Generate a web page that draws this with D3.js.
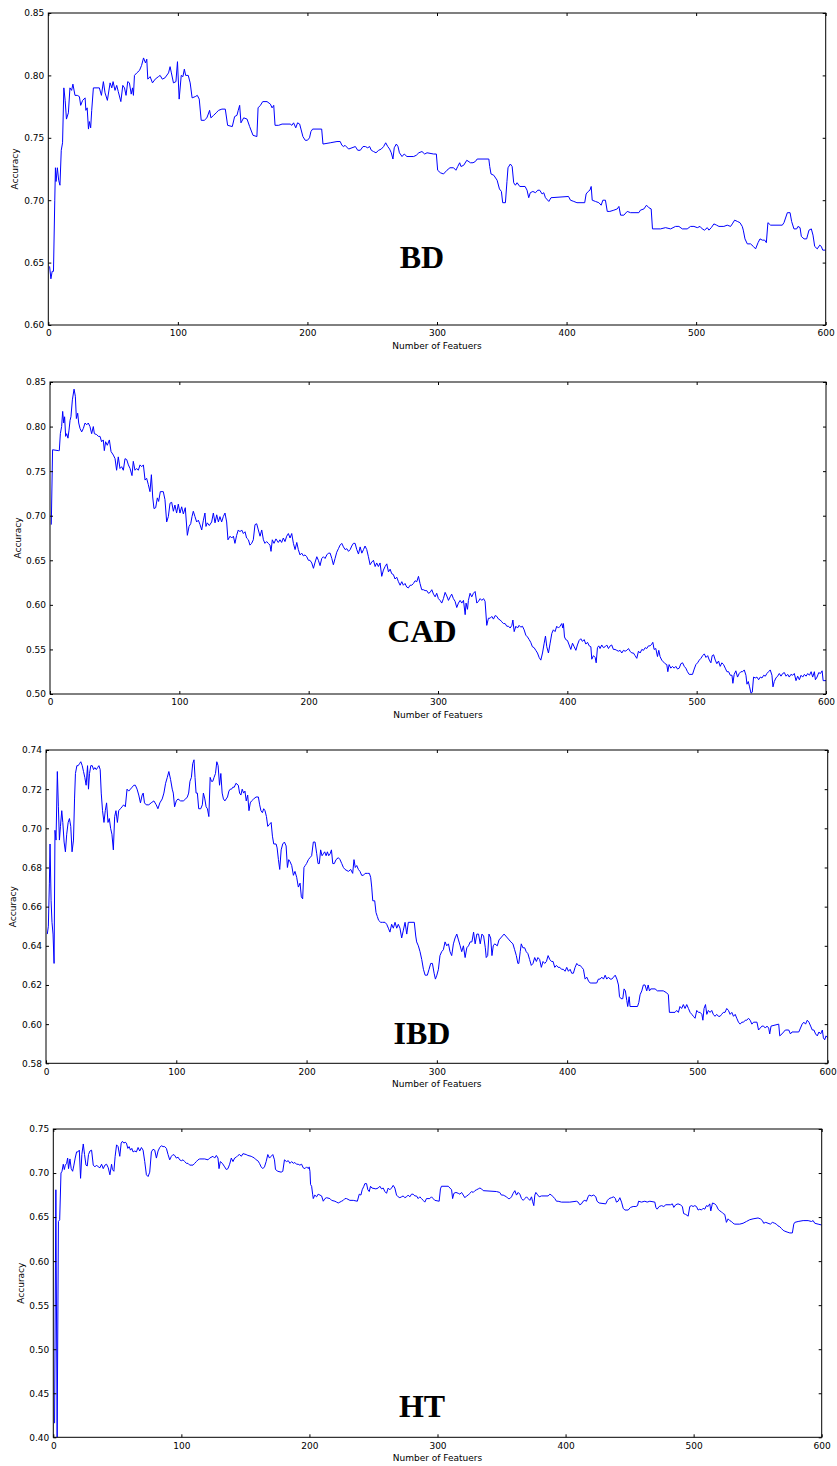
<!DOCTYPE html>
<html><head><meta charset="utf-8">
<script src="https://cdn.jsdelivr.net/npm/d3@7"></script>
<style>body{margin:0;background:#fff}svg{display:block}</style>
</head><body>
<svg id="chart" width="837" height="1466"></svg>
<script>
// ---------- data ----------
const xTickValues = [0, 100, 200, 300, 400, 500, 600];
const panelNames = ["BD", "CAD", "IBD", "HT"];
const bdTicks  = [0.60, 0.65, 0.70, 0.75, 0.80, 0.85];
const cadTicks = [0.50, 0.55, 0.60, 0.65, 0.70, 0.75, 0.80, 0.85];
const ibdTicks = [0.58, 0.60, 0.62, 0.64, 0.66, 0.68, 0.70, 0.72, 0.74];
const htTicks  = [0.40, 0.45, 0.50, 0.55, 0.60, 0.65, 0.70, 0.75];

const bdSeries = [[1,0.647],[2,0.637],[3,0.643],[4,0.643],[5,0.700],[5.5,0.726],[6,0.715],[7,0.726],[8,0.716],[9,0.712],[10,0.740],[11,0.746],[12,0.790],[13,0.780],[14,0.765],[15.5,0.770],[16.7,0.790],[18,0.788],[19,0.793],[20.6,0.784],[22.4,0.784],[24,0.783],[25,0.776],[26.5,0.780],[28.4,0.782],[29,0.772],[30,0.774],[31,0.757],[31.7,0.763],[32.7,0.758],[33.5,0.772],[34.8,0.790],[39.4,0.790],[41,0.784],[42.5,0.795],[43.8,0.786],[45.6,0.780],[47.7,0.794],[49,0.790],[50,0.795],[51.5,0.788],[52.8,0.792],[54,0.787],[56,0.779],[57.5,0.792],[58.8,0.790],[60,0.784],[61.3,0.795],[62.6,0.794],[64,0.785],[65,0.790],[65.7,0.784],[66.5,0.800],[68.3,0.802],[70.4,0.804],[72,0.808],[73.5,0.814],[75,0.810],[76,0.813],[76.8,0.797],[78.6,0.799],[80.4,0.794],[82.5,0.797],[85,0.799],[86.3,0.800],[88,0.797],[90,0.798],[92.8,0.802],[94,0.807],[95,0.802],[96.6,0.794],[98.5,0.795],[99.7,0.811],[101,0.781],[102.6,0.800],[103.9,0.799],[105,0.805],[106,0.800],[108,0.800],[109.5,0.794],[111,0.782],[113.4,0.783],[115,0.784],[116.5,0.781],[118,0.764],[120.4,0.764],[122.4,0.766],[124.5,0.772],[125.5,0.766],[127.6,0.768],[129.6,0.770],[131.4,0.772],[134,0.773],[136.6,0.773],[138.4,0.760],[142,0.759],[143.8,0.767],[145.6,0.768],[146.6,0.772],[147.7,0.776],[148.7,0.762],[150.8,0.766],[153.4,0.765],[155.4,0.759],[158,0.752],[161,0.751],[161.9,0.774],[163.7,0.776],[165.5,0.779],[168.8,0.779],[171.4,0.777],[172.7,0.774],[174,0.776],[175,0.760],[177.8,0.760],[180.4,0.761],[186.7,0.761],[188,0.760],[189.3,0.762],[191,0.758],[192.4,0.762],[194,0.761],[195,0.757],[196.5,0.751],[198.3,0.748],[200,0.748],[201.6,0.750],[202.7,0.755],[204,0.757],[211,0.757],[212,0.745],[217.6,0.746],[222.8,0.747],[225.3,0.747],[226.6,0.744],[228,0.743],[229,0.744],[231.8,0.741],[234.4,0.742],[237,0.743],[238.8,0.740],[240.8,0.740],[242.9,0.743],[244.7,0.743],[246.5,0.742],[248,0.743],[249.3,0.740],[251,0.739],[252.9,0.738],[255,0.740],[257,0.741],[258.8,0.743],[260.4,0.746],[262,0.743],[263.4,0.741],[264.7,0.738],[266,0.733],[267,0.742],[268.6,0.745],[269.9,0.743],[271,0.738],[273,0.735],[274.7,0.737],[276.8,0.735],[282,0.735],[284,0.736],[286,0.738],[288.4,0.739],[290.5,0.737],[292.3,0.738],[297.4,0.737],[299.5,0.737],[300.5,0.724],[302.6,0.722],[305,0.721],[307.7,0.724],[310,0.726],[312.8,0.726],[314.6,0.724],[316,0.727],[317.5,0.730],[318.5,0.727],[320.6,0.728],[323,0.732],[325.8,0.730],[327.8,0.730],[329.6,0.731],[331,0.733],[340,0.733],[340.7,0.727],[341.7,0.721],[343.8,0.720],[346.4,0.716],[348.2,0.709],[349.7,0.707],[350.7,0.698],[352.8,0.698],[354,0.715],[354.8,0.726],[356.6,0.729],[358,0.727],[359.2,0.714],[360.5,0.712],[361.8,0.714],[363.9,0.711],[368,0.711],[369.5,0.708],[370.8,0.702],[372,0.706],[374,0.707],[376,0.706],[377.8,0.708],[379.3,0.708],[381.1,0.705],[382.4,0.706],[383.7,0.702],[386.3,0.699],[388,0.702],[401.5,0.703],[403,0.700],[405.6,0.699],[408,0.698],[414,0.698],[415.1,0.705],[416.7,0.707],[418,0.708],[419,0.711],[419.8,0.700],[422.3,0.699],[424.9,0.698],[426.7,0.696],[428,0.700],[430,0.700],[431.4,0.691],[433.4,0.691],[436.5,0.692],[439.1,0.693],[440.4,0.695],[441.7,0.688],[444.2,0.688],[446.8,0.691],[449.4,0.690],[455.8,0.690],[457,0.692],[459.7,0.693],[461.7,0.696],[463.5,0.694],[465.3,0.693],[466.3,0.677],[472.5,0.677],[476.4,0.678],[480.3,0.677],[484.1,0.679],[486.7,0.679],[489.3,0.677],[493.1,0.677],[495.7,0.679],[498.3,0.679],[500.9,0.678],[503,0.679],[504.7,0.677],[506.5,0.676],[508.6,0.678],[509.9,0.676],[511.7,0.678],[513.7,0.681],[515.8,0.680],[517.6,0.679],[521.4,0.679],[524,0.680],[526.6,0.679],[527.9,0.681],[529.7,0.684],[531.8,0.683],[533.8,0.682],[535.6,0.679],[536.4,0.676],[537.7,0.669],[539.5,0.665],[542,0.665],[544.1,0.663],[545.9,0.661],[547.8,0.666],[549.3,0.669],[551.1,0.668],[552.9,0.668],[554.2,0.666],[555.4,0.682],[557.5,0.680],[566.5,0.680],[567.8,0.682],[570.4,0.690],[572.5,0.690],[573.7,0.683],[575.5,0.677],[577.6,0.677],[578.6,0.679],[580.2,0.678],[581.2,0.671],[583.3,0.669],[585.3,0.669],[587.1,0.676],[588.9,0.677],[590.2,0.672],[591.5,0.663],[593.5,0.661],[595.4,0.664],[596.6,0.663],[597.7,0.660],[600,0.660]];

const cadSeries = [[1,0.690],[2,0.774],[6.4,0.773],[7.2,0.773],[8,0.792],[9,0.800],[9.8,0.817],[10.6,0.804],[11.3,0.811],[12.1,0.789],[12.9,0.792],[13.9,0.787],[14.7,0.796],[15.5,0.807],[16.2,0.811],[17.3,0.830],[18.6,0.842],[19.6,0.834],[20.4,0.809],[21.4,0.815],[22.2,0.804],[23.2,0.798],[24.5,0.794],[25.8,0.798],[27.1,0.804],[28.4,0.802],[29.6,0.804],[30.9,0.800],[32.2,0.792],[33.5,0.800],[34.3,0.792],[36.1,0.791],[37.4,0.789],[38.7,0.789],[39.9,0.783],[41.2,0.785],[42,0.773],[43,0.783],[44.3,0.779],[45.9,0.785],[47.2,0.772],[49,0.768],[50.3,0.764],[51.5,0.751],[52.8,0.766],[54.1,0.753],[55.4,0.755],[56.7,0.751],[58,0.764],[59.3,0.763],[60.6,0.757],[61.9,0.753],[63.4,0.745],[64.4,0.761],[65.7,0.751],[67,0.753],[68.3,0.751],[69.6,0.757],[70.9,0.755],[72.2,0.757],[73.5,0.740],[74.7,0.742],[76,0.735],[77.3,0.727],[78.4,0.746],[79.4,0.721],[80.4,0.708],[81.7,0.709],[83,0.720],[84,0.716],[85.3,0.727],[87.6,0.727],[88.9,0.718],[90.2,0.693],[91.5,0.699],[92.8,0.714],[94.1,0.715],[95.4,0.705],[96.6,0.712],[97.9,0.703],[99.2,0.713],[100.5,0.703],[101.8,0.710],[103.1,0.702],[104.6,0.709],[106.2,0.678],[107.5,0.688],[108.8,0.691],[109.8,0.699],[110.8,0.705],[112.1,0.699],[113.4,0.693],[114.7,0.695],[116,0.690],[117.3,0.684],[118.6,0.695],[119.8,0.703],[120.6,0.688],[121.6,0.692],[123.2,0.689],[125,0.693],[126.3,0.703],[127.6,0.692],[128.9,0.701],[130.2,0.693],[131.4,0.699],[132.7,0.693],[134,0.699],[135.3,0.703],[136.6,0.693],[137.6,0.673],[139.2,0.677],[140.5,0.675],[141.8,0.677],[143,0.669],[144.3,0.678],[145.6,0.684],[146.9,0.682],[148.2,0.684],[149.5,0.680],[150.8,0.682],[152,0.675],[153.4,0.673],[154.6,0.667],[155.9,0.669],[157.2,0.673],[158.5,0.690],[159.8,0.691],[161.1,0.684],[162.4,0.677],[163.7,0.684],[165,0.673],[166.2,0.669],[167.5,0.671],[168.8,0.669],[170.1,0.667],[170.9,0.660],[171.9,0.673],[173.2,0.669],[174.7,0.674],[176.5,0.670],[177.8,0.673],[179.1,0.670],[180.4,0.675],[181.7,0.671],[183,0.677],[184.3,0.680],[185.6,0.675],[186.9,0.680],[188.2,0.669],[189.5,0.662],[190.8,0.670],[192,0.662],[193.3,0.656],[194.6,0.658],[195.9,0.655],[197.2,0.656],[198.5,0.654],[199.8,0.650],[201,0.650],[202.4,0.647],[203.7,0.641],[205,0.648],[206.3,0.654],[207.5,0.650],[208.8,0.644],[210.1,0.652],[211.4,0.654],[212.7,0.652],[214,0.656],[215.3,0.658],[216.6,0.658],[217.9,0.652],[219.1,0.645],[220.4,0.652],[221.7,0.659],[223,0.663],[224.3,0.667],[225.6,0.669],[226.9,0.665],[228.2,0.662],[229.5,0.663],[230.8,0.660],[232.1,0.662],[233.3,0.666],[234.6,0.669],[235.9,0.669],[237.2,0.662],[238.5,0.657],[239.8,0.665],[241.1,0.658],[242.4,0.662],[243.6,0.666],[244.9,0.662],[246.2,0.654],[247.5,0.645],[248.8,0.648],[250.1,0.650],[251.4,0.643],[252.6,0.647],[253.9,0.643],[255.2,0.647],[256.5,0.632],[257.8,0.639],[259.1,0.643],[260.4,0.646],[261.7,0.637],[263,0.640],[264.2,0.635],[265.5,0.634],[266.8,0.629],[268.1,0.631],[269.4,0.626],[270.7,0.622],[272,0.626],[273.2,0.622],[274.5,0.624],[275.8,0.620],[277.1,0.619],[278.4,0.622],[279.7,0.622],[281,0.624],[282.3,0.627],[283.6,0.626],[284.9,0.632],[286.1,0.624],[287.4,0.617],[288.7,0.617],[290,0.616],[291.3,0.616],[292.6,0.613],[293.9,0.614],[295.2,0.617],[296.5,0.612],[297.8,0.609],[299,0.613],[300.3,0.607],[301.6,0.605],[302.9,0.602],[304.2,0.607],[305.5,0.614],[306.8,0.610],[308.1,0.605],[309.4,0.609],[310.6,0.612],[311.9,0.607],[313.2,0.604],[314.5,0.597],[315.8,0.602],[317.1,0.605],[318.4,0.602],[319.7,0.605],[321,0.589],[321.7,0.602],[322.8,0.595],[323.5,0.605],[324.8,0.613],[326.1,0.609],[327.4,0.613],[328.7,0.615],[330,0.602],[331.3,0.604],[332.6,0.607],[333.9,0.605],[335.2,0.607],[336.4,0.604],[337.7,0.577],[339,0.585],[340.3,0.585],[341.6,0.587],[342.9,0.584],[344.2,0.588],[345.5,0.587],[346.8,0.584],[348.1,0.583],[349.3,0.581],[350.6,0.579],[351.9,0.579],[353.2,0.576],[354.5,0.576],[355.8,0.574],[357.1,0.577],[357.9,0.583],[358.9,0.570],[360.2,0.576],[361.5,0.574],[362.7,0.577],[364,0.575],[365.3,0.576],[366.6,0.572],[367.9,0.566],[369.2,0.564],[370.5,0.561],[371.7,0.558],[373,0.553],[374.3,0.552],[375.6,0.549],[376.9,0.546],[378.2,0.541],[379.5,0.538],[380.8,0.546],[382.1,0.557],[383.1,0.565],[384.1,0.553],[385.4,0.546],[386.7,0.557],[388,0.568],[389.2,0.572],[390.5,0.570],[391.8,0.576],[393.1,0.574],[394.4,0.576],[395.7,0.579],[396.5,0.574],[397,0.579],[397.8,0.564],[398.8,0.561],[400.1,0.560],[401.4,0.555],[402.7,0.550],[404,0.557],[405.3,0.553],[406.6,0.549],[407.8,0.555],[409.1,0.560],[410.4,0.562],[411.7,0.559],[413,0.561],[414.3,0.556],[415.6,0.558],[416.9,0.554],[418.2,0.553],[418.9,0.539],[420.2,0.543],[421.5,0.541],[422.3,0.535],[423.3,0.552],[424.3,0.554],[425.3,0.551],[426.6,0.555],[427.9,0.552],[429.2,0.553],[430.5,0.555],[431.8,0.551],[433.1,0.554],[434.3,0.555],[435.6,0.550],[436.9,0.550],[438.2,0.549],[439.5,0.548],[440.8,0.549],[442.1,0.546],[443.4,0.549],[444.7,0.548],[446,0.549],[447.3,0.551],[448.5,0.548],[449.8,0.546],[451.1,0.546],[452.4,0.543],[453.7,0.540],[455,0.548],[456.3,0.546],[457.6,0.550],[458.9,0.549],[460.2,0.552],[461.4,0.551],[462.7,0.554],[464,0.554],[465.3,0.556],[466.1,0.558],[467.1,0.550],[468.4,0.551],[469.7,0.542],[470.7,0.549],[471.7,0.542],[473,0.538],[474.3,0.536],[475.6,0.534],[476.9,0.533],[477.7,0.525],[478.7,0.533],[480,0.529],[481.3,0.531],[482.6,0.529],[483.9,0.531],[485.2,0.528],[486.5,0.529],[487.8,0.534],[489.1,0.535],[490.4,0.531],[491.6,0.529],[492.9,0.525],[494.2,0.522],[496.8,0.522],[498.1,0.528],[499.4,0.533],[500.7,0.535],[502,0.538],[503.3,0.540],[504.6,0.543],[505.9,0.545],[507.2,0.541],[508.5,0.543],[509.8,0.538],[511,0.535],[512,0.543],[513.1,0.544],[514.4,0.538],[515.6,0.534],[516.9,0.537],[518.2,0.531],[519.5,0.535],[520.8,0.533],[522.1,0.529],[523.4,0.525],[524.7,0.525],[526,0.521],[527.3,0.521],[528,0.512],[529,0.522],[530.3,0.526],[531.6,0.519],[532.9,0.523],[534.2,0.525],[535.5,0.525],[536.8,0.527],[538.1,0.521],[538.9,0.511],[539.9,0.514],[540.9,0.508],[542,0.501],[543,0.502],[544,0.519],[545.3,0.518],[546.6,0.519],[547.9,0.516],[549.2,0.519],[550.5,0.518],[551.8,0.521],[553.1,0.520],[554.3,0.523],[555.6,0.525],[556.9,0.527],[558.2,0.521],[559,0.508],[560,0.514],[561.3,0.518],[562.6,0.520],[563.9,0.523],[565.2,0.520],[566.5,0.523],[567.8,0.524],[569.1,0.520],[570.4,0.522],[571.6,0.519],[572.9,0.522],[574.2,0.521],[575.5,0.523],[576.8,0.515],[578.1,0.520],[579.4,0.516],[580.7,0.521],[582,0.519],[583.3,0.522],[584.6,0.520],[585.9,0.523],[587.2,0.521],[588.5,0.525],[589.7,0.519],[591,0.525],[591.8,0.516],[593.1,0.519],[594.4,0.524],[595.7,0.523],[597,0.526],[597.8,0.515],[600,0.515]];

const ibdSeries = [[1,0.646],[1.8,0.650],[2.6,0.672],[3.1,0.692],[3.9,0.663],[4.6,0.652],[5.4,0.646],[6.2,0.631],[6.9,0.699],[7.7,0.694],[8.7,0.729],[9.5,0.711],[10.3,0.694],[11.1,0.701],[12.1,0.709],[12.9,0.703],[13.9,0.693],[14.9,0.688],[15.9,0.697],[17,0.703],[18,0.705],[19,0.701],[20,0.688],[21.1,0.694],[21.9,0.715],[22.6,0.728],[23.7,0.732],[24.7,0.732],[25.7,0.733],[26.7,0.734],[27.8,0.732],[28.8,0.729],[29.8,0.726],[30.8,0.722],[31.9,0.732],[32.6,0.720],[33.4,0.728],[34.4,0.732],[35.5,0.732],[36.5,0.730],[37.5,0.731],[38.6,0.730],[39.6,0.731],[40.6,0.732],[41.6,0.730],[42.4,0.718],[43.4,0.709],[44.5,0.703],[45.5,0.709],[46.5,0.713],[47.6,0.703],[48.6,0.705],[49.6,0.700],[50.6,0.697],[51.7,0.689],[52.7,0.706],[53.7,0.709],[54.8,0.703],[55.8,0.709],[57.1,0.710],[58.4,0.711],[59.6,0.712],[60.9,0.711],[62.2,0.720],[63.5,0.719],[64.8,0.720],[66.1,0.721],[67.4,0.722],[68.6,0.722],[69.9,0.720],[71.2,0.717],[72.5,0.713],[73.8,0.717],[74.6,0.718],[75.6,0.713],[76.9,0.712],[78.9,0.712],[80.7,0.713],[82.8,0.714],[84.6,0.712],[85.9,0.710],[87.4,0.713],[89.2,0.715],[90.5,0.718],[91.8,0.723],[93.1,0.726],[94.3,0.729],[95.6,0.725],[96.9,0.720],[97.7,0.718],[98.7,0.711],[100,0.714],[101.3,0.715],[103.3,0.714],[105.4,0.714],[107.2,0.715],[108.5,0.716],[109.5,0.718],[110.5,0.724],[111.6,0.726],[112.6,0.733],[113.6,0.735],[114.4,0.726],[115.2,0.718],[116.2,0.718],[117.2,0.710],[118.8,0.710],[120,0.712],[120.8,0.718],[121.9,0.715],[122.9,0.711],[123.9,0.710],[125,0.706],[126,0.726],[127,0.724],[128,0.724],[129,0.726],[130.1,0.728],[131.1,0.734],[132.1,0.732],[133.2,0.722],[134.2,0.728],[135.2,0.718],[136.2,0.715],[137.3,0.714],[138.3,0.715],[139.3,0.716],[140.4,0.719],[141.4,0.720],[142.4,0.720],[143.4,0.721],[144.5,0.721],[145.8,0.723],[147.6,0.722],[148.6,0.718],[149.6,0.717],[150.6,0.720],[151.7,0.718],[152.7,0.719],[153.7,0.714],[154.8,0.717],[155.8,0.709],[156.8,0.713],[157.8,0.714],[159.4,0.715],[161.2,0.716],[163,0.716],[164,0.712],[165,0.709],[166.1,0.708],[167.1,0.710],[168.1,0.709],[169.2,0.706],[170.2,0.701],[171.5,0.702],[172.8,0.703],[173.8,0.696],[174.8,0.692],[176.6,0.692],[177.4,0.690],[178.4,0.684],[179.4,0.679],[180.5,0.689],[181.7,0.692],[183,0.693],[184.3,0.691],[185.3,0.680],[186.3,0.684],[187.3,0.683],[188.6,0.681],[189.9,0.676],[191.1,0.678],[192.4,0.675],[193.7,0.670],[195,0.672],[196,0.665],[197,0.664],[198,0.680],[199,0.681],[200,0.682],[201.4,0.684],[202.6,0.685],[203.9,0.686],[205.2,0.693],[206.5,0.693],[207.8,0.687],[208.8,0.682],[209.8,0.682],[210.8,0.689],[211.9,0.686],[212.9,0.687],[213.9,0.688],[215,0.686],[216,0.688],[217,0.686],[218.1,0.687],[219.1,0.689],[220.1,0.682],[221.3,0.682],[222.6,0.684],[224.4,0.685],[225.7,0.684],[227,0.682],[228.3,0.680],[229.5,0.679],[232.1,0.678],[233.9,0.679],[235.4,0.677],[236.4,0.684],[237.4,0.680],[238.5,0.681],[239.8,0.679],[241,0.678],[242.3,0.676],[243.6,0.676],[244.9,0.677],[246.7,0.677],[248.2,0.677],[249.2,0.675],[250,0.670],[250.8,0.663],[252.3,0.663],[253.3,0.657],[254.3,0.655],[255.3,0.653],[256.9,0.652],[258.4,0.652],[260.2,0.652],[261.5,0.651],[262.8,0.649],[264,0.647],[265.3,0.651],[266.6,0.649],[267.9,0.652],[269.2,0.649],[270.4,0.651],[271.7,0.649],[273,0.644],[274.3,0.648],[275.6,0.652],[276.9,0.646],[278.1,0.652],[282.7,0.652],[283.8,0.645],[284.5,0.642],[285.8,0.640],[287.1,0.637],[288.4,0.633],[289.7,0.628],[291,0.625],[292.7,0.625],[294,0.628],[295.3,0.631],[296.6,0.631],[297.9,0.626],[298.9,0.623],[300,0.625],[301.2,0.628],[302.4,0.635],[303.7,0.637],[305,0.638],[306.3,0.642],[307.6,0.640],[308.9,0.641],[310.1,0.637],[311.4,0.635],[312.7,0.641],[314,0.644],[315.3,0.646],[316.6,0.643],[317.9,0.640],[319.1,0.637],[320.4,0.640],[321.7,0.634],[323,0.639],[324.3,0.640],[325.6,0.642],[326.9,0.642],[328.2,0.647],[329.4,0.641],[330.7,0.646],[332,0.646],[333.3,0.641],[334.6,0.646],[335.9,0.645],[337.2,0.639],[337.9,0.634],[339,0.635],[340,0.646],[341.3,0.644],[342.3,0.635],[343.3,0.640],[344.4,0.641],[346.4,0.640],[347.7,0.643],[349,0.644],[350.3,0.645],[351.6,0.646],[352.9,0.645],[354.2,0.644],[355.5,0.643],[356.8,0.642],[358.4,0.641],[359.7,0.638],[361,0.635],[362.2,0.631],[362.9,0.631],[364,0.637],[364.8,0.641],[366,0.639],[367.4,0.639],[368.6,0.637],[369.9,0.636],[371.2,0.633],[372.5,0.630],[373.8,0.631],[375.1,0.634],[376.4,0.632],[377.6,0.634],[378.9,0.633],[380.2,0.629],[381.5,0.632],[382.8,0.631],[384.1,0.632],[385.4,0.635],[386.7,0.633],[388,0.632],[389.2,0.632],[390.5,0.629],[391.8,0.630],[393.1,0.629],[394.4,0.629],[395.7,0.628],[397.1,0.628],[398.4,0.627],[399.7,0.629],[401,0.627],[402.3,0.628],[403.5,0.626],[404.8,0.626],[406.1,0.629],[407.4,0.631],[408.7,0.630],[410,0.630],[411.2,0.629],[412.5,0.628],[413.8,0.623],[415.1,0.624],[416.4,0.622],[417.7,0.621],[419,0.621],[422.7,0.621],[424,0.623],[425.3,0.623],[426.6,0.624],[427.9,0.623],[429.2,0.625],[430.4,0.623],[431.7,0.624],[433,0.623],[434.3,0.623],[435.6,0.624],[436.9,0.625],[438.2,0.623],[439.4,0.620],[440.2,0.614],[441.4,0.613],[442.7,0.613],[443.7,0.618],[444.7,0.617],[445.8,0.612],[446.5,0.609],[447.6,0.614],[448.3,0.609],[454,0.609],[455,0.611],[456,0.615],[457.3,0.617],[458.5,0.620],[459.8,0.620],[461.1,0.617],[462.2,0.620],[463.2,0.617],[464.2,0.618],[467.5,0.618],[469.3,0.617],[473.8,0.617],[476.4,0.616],[477.7,0.615],[478.5,0.606],[482.8,0.606],[484.1,0.607],[485.4,0.606],[486.6,0.609],[487.9,0.608],[489.2,0.610],[490.5,0.608],[491.8,0.610],[493.1,0.608],[494.4,0.606],[495.7,0.605],[496.9,0.604],[498.2,0.603],[499.5,0.607],[500.8,0.606],[502.1,0.606],[503.4,0.605],[504.2,0.602],[505.1,0.608],[506.2,0.610],[507.2,0.605],[508.4,0.607],[509.7,0.606],[511,0.607],[512.2,0.605],[513.5,0.604],[514.8,0.605],[516.1,0.604],[517.4,0.604],[518.6,0.605],[519.9,0.606],[521.2,0.606],[522.5,0.608],[523.8,0.607],[525.1,0.605],[526.4,0.606],[527.7,0.604],[529,0.605],[530.2,0.603],[531.5,0.601],[532.8,0.600],[534.1,0.601],[535.4,0.601],[536.7,0.602],[537.9,0.602],[539.2,0.603],[540.5,0.602],[541.8,0.600],[543.1,0.601],[545.7,0.601],[546.9,0.597],[548.2,0.598],[549.5,0.599],[550.8,0.599],[552.1,0.598],[553.4,0.599],[554.7,0.598],[555.5,0.595],[556.5,0.599],[562.4,0.600],[563.2,0.594],[564.9,0.595],[566.2,0.596],[567.5,0.597],[570.1,0.597],[571.4,0.595],[572.6,0.596],[577.8,0.596],[579.1,0.598],[580.4,0.600],[581.7,0.601],[583,0.600],[584.3,0.602],[585.6,0.601],[586.9,0.599],[588.2,0.597],[589.4,0.597],[590.7,0.595],[592,0.594],[593.3,0.596],[594.6,0.595],[595.9,0.597],[596.7,0.593],[597.7,0.592],[598.7,0.594],[600,0.593]];

const htSeries = [[1,0.416],[2,0.681],[3,0.400],[4,0.645],[5,0.647],[6,0.700],[6.8,0.702],[7.8,0.710],[8.6,0.704],[9.4,0.709],[10.4,0.711],[11.2,0.717],[11.9,0.705],[13,0.716],[14,0.705],[15.1,0.702],[16.1,0.709],[17.1,0.717],[18.2,0.724],[19.2,0.724],[20.3,0.726],[21.3,0.694],[22.3,0.721],[23.4,0.733],[24.4,0.721],[25.5,0.709],[26.5,0.708],[27.5,0.721],[28.6,0.725],[29.9,0.726],[31.2,0.709],[32.5,0.707],[33.8,0.709],[35.1,0.707],[36.4,0.706],[37.7,0.710],[39,0.705],[40.3,0.709],[41.6,0.710],[42.9,0.706],[44.2,0.698],[45.5,0.710],[46.2,0.704],[47.3,0.702],[48.3,0.719],[49.4,0.732],[50.6,0.730],[51.9,0.719],[53,0.734],[54,0.736],[55.1,0.734],[56.1,0.735],[57.1,0.734],[58.2,0.728],[59.2,0.730],[60.3,0.726],[61.3,0.728],[62.3,0.724],[63.6,0.725],[64.9,0.724],[66.2,0.729],[67.5,0.725],[68.8,0.729],[70.1,0.726],[71.4,0.713],[72.7,0.698],[74,0.696],[75.3,0.701],[76.6,0.724],[77.9,0.727],[79.2,0.726],[80.5,0.717],[81.8,0.725],[83.1,0.729],[84.4,0.731],[85.7,0.730],[87,0.730],[88.3,0.728],[89.6,0.721],[90.9,0.715],[92.2,0.719],[93.5,0.721],[94.8,0.720],[96.1,0.717],[97.4,0.718],[98.7,0.715],[100,0.714],[101.3,0.715],[102.6,0.713],[103.9,0.711],[105.2,0.711],[106.5,0.709],[109.1,0.709],[110.4,0.711],[111.7,0.713],[113,0.715],[114.3,0.716],[118.2,0.716],[120.8,0.715],[122.1,0.717],[124.7,0.719],[126,0.717],[127.3,0.720],[128.6,0.717],[129.4,0.705],[130.4,0.713],[132,0.711],[133.8,0.707],[135.1,0.704],[136.4,0.705],[137.7,0.710],[139,0.717],[140.3,0.713],[141.6,0.717],[142.9,0.718],[144.2,0.720],[145.5,0.721],[146.8,0.719],[148.1,0.722],[150.6,0.721],[151.9,0.720],[154.5,0.719],[155.8,0.718],[157.1,0.717],[158.4,0.715],[159.7,0.714],[161,0.711],[162.3,0.707],[163.6,0.705],[164.9,0.707],[166.2,0.713],[167.5,0.721],[168.8,0.717],[170.1,0.719],[171.4,0.721],[172.7,0.715],[173.5,0.704],[175.3,0.702],[177.9,0.701],[179.2,0.702],[180.5,0.715],[182.1,0.713],[183.5,0.714],[184.8,0.711],[186.1,0.713],[187.4,0.711],[188.6,0.712],[189.9,0.710],[191.2,0.710],[192.5,0.709],[193.9,0.710],[195.1,0.706],[196.5,0.705],[197.8,0.707],[199.1,0.705],[199.8,0.707],[200.4,0.702],[200.9,0.687],[201.7,0.685],[202.5,0.676],[203,0.671],[204.2,0.675],[205.6,0.673],[206.8,0.676],[208.2,0.675],[209.5,0.674],[210.8,0.668],[212.1,0.671],[213.4,0.672],[216,0.671],[217.3,0.669],[219.9,0.668],[221.2,0.667],[222.5,0.666],[223.8,0.667],[225.1,0.668],[226.4,0.669],[227.7,0.671],[229,0.671],[231.6,0.669],[234.2,0.669],[237.4,0.668],[238.9,0.676],[240.2,0.675],[241.2,0.681],[242.5,0.685],[243.3,0.688],[244.6,0.688],[245.6,0.681],[246.7,0.679],[247.7,0.685],[248.8,0.683],[251.9,0.682],[253.7,0.683],[255,0.685],[256.3,0.682],[257.6,0.683],[258.9,0.679],[260.2,0.677],[261.5,0.683],[262.8,0.681],[264.1,0.683],[265.4,0.686],[266.7,0.683],[268,0.675],[269.3,0.673],[270.6,0.672],[271.9,0.673],[273.2,0.674],[274.5,0.672],[275.8,0.673],[277.1,0.675],[278.4,0.673],[279.7,0.676],[281,0.676],[282.3,0.674],[283.6,0.674],[284.9,0.671],[286.2,0.673],[287.5,0.671],[288.8,0.669],[290.1,0.667],[291.4,0.671],[294,0.671],[295.3,0.673],[296.6,0.671],[297.9,0.669],[301.3,0.668],[302.3,0.682],[303.1,0.685],[308.4,0.685],[309.7,0.683],[311,0.681],[311.8,0.671],[312.8,0.677],[314.4,0.678],[316.2,0.677],[317.5,0.676],[318.8,0.678],[320.1,0.675],[321.4,0.672],[322.7,0.674],[324,0.675],[325.3,0.677],[326.6,0.679],[327.9,0.678],[329.2,0.680],[330.5,0.681],[331.8,0.682],[333.1,0.683],[334.4,0.682],[335.7,0.680],[346,0.679],[348.6,0.678],[349.9,0.675],[351.3,0.675],[352.6,0.674],[353.9,0.673],[355.2,0.671],[356.5,0.671],[357.8,0.673],[359.1,0.677],[360.4,0.680],[361.7,0.675],[363,0.678],[364.3,0.676],[365.6,0.671],[366.9,0.669],[368.2,0.671],[369.5,0.673],[370.8,0.671],[372.1,0.669],[373.4,0.673],[374.2,0.668],[375.2,0.663],[376,0.675],[376.8,0.678],[377.8,0.676],[379.4,0.673],[381.2,0.674],[386.4,0.674],[387.7,0.676],[389,0.675],[390.3,0.673],[391.6,0.671],[392.9,0.668],[394.2,0.668],[396.8,0.667],[403.3,0.667],[408.5,0.668],[409.8,0.667],[411.1,0.664],[412.4,0.665],[413.7,0.668],[415,0.669],[416.3,0.668],[417.6,0.673],[418.4,0.675],[420.2,0.674],[422,0.675],[423.6,0.673],[424.6,0.668],[426.2,0.666],[431.4,0.665],[432.7,0.669],[434,0.671],[435.8,0.672],[437.6,0.673],[438.9,0.671],[439.7,0.667],[441,0.668],[442.4,0.672],[443.7,0.667],[445,0.660],[446.3,0.658],[448.9,0.658],[450.7,0.661],[452.8,0.662],[454.9,0.662],[456.2,0.663],[457,0.668],[459.3,0.667],[461.9,0.668],[463.7,0.667],[465.8,0.668],[469.7,0.667],[470.5,0.661],[471.5,0.659],[473.1,0.662],[474.9,0.663],[476.7,0.662],[478.3,0.664],[481.9,0.664],[483.4,0.665],[484.5,0.661],[486,0.664],[487.8,0.665],[489.6,0.664],[491.2,0.662],[492.2,0.654],[493.8,0.653],[494.9,0.652],[495.7,0.651],[497,0.662],[498.3,0.663],[499.6,0.662],[500.9,0.663],[502.2,0.662],[503.5,0.658],[504.8,0.659],[506.1,0.658],[507.4,0.660],[508.7,0.659],[510,0.663],[511.3,0.662],[512.6,0.665],[513.4,0.657],[514.7,0.666],[516.5,0.665],[517.8,0.663],[519.1,0.659],[520.4,0.657],[521.7,0.656],[523,0.654],[524.3,0.653],[525.6,0.644],[526.9,0.648],[528.2,0.646],[529.5,0.645],[530.8,0.643],[532.1,0.642],[536,0.642],[538.6,0.643],[541.2,0.645],[543.8,0.647],[546.4,0.648],[550.3,0.649],[552.1,0.648],[553.7,0.646],[554.7,0.643],[556.3,0.644],[558.1,0.643],[559.9,0.642],[561.5,0.644],[563.3,0.643],[564.6,0.642],[565.9,0.640],[567.3,0.639],[568.6,0.637],[569.9,0.635],[571.2,0.634],[573,0.633],[575.1,0.632],[577.1,0.632],[578.2,0.642],[579,0.644],[581.6,0.645],[585.5,0.646],[589.4,0.646],[592,0.645],[593.3,0.646],[594.6,0.643],[597.2,0.642],[600,0.641]];

// ---------- layout (positions / styles) ----------
const layout = [
  {series: bdSeries,  ticks: bdTicks,  box: [48.3, 13, 825.7, 325],   labelX: 15, titleY: 268},
  {series: cadSeries, ticks: cadTicks, box: [50, 382, 826, 694],      labelX: 18, titleY: 642},
  {series: ibdSeries, ticks: ibdTicks, box: [46, 750, 827.7, 1063.3], labelX: 13, titleY: 1044},
  {series: htSeries,  ticks: htTicks,  box: [53.3, 1129, 821.7, 1437.3], labelX: 21, titleY: 1417}
];

const svg = d3.select("#chart");
const FONT = "'DejaVu Sans', 'Bitstream Vera Sans', sans-serif";

layout.forEach((p, i) => {
  const [L, T, R, B] = p.box;
  const yDom = d3.extent(p.ticks);
  const x = d3.scaleLinear().domain([0, 600]).range([L, R]);
  const y = d3.scaleLinear().domain(yDom).range([B, T]);
  const g = svg.append("g");

  const clipId = "clip" + i;
  svg.append("clipPath").attr("id", clipId)
    .append("rect").attr("x", L).attr("y", T).attr("width", R - L).attr("height", B - T);

  const line = d3.line().x(d => x(d[0])).y(d => y(d[1]));
  g.append("path").datum(p.series)
    .attr("d", line)
    .attr("fill", "none")
    .attr("stroke", "#0000ff")
    .attr("stroke-width", 1)
    .attr("stroke-linejoin", "round")
    .attr("clip-path", `url(#${clipId})`);

  const fmt = d3.format(".2f");
  const styleAxis = sel => {
    sel.select(".domain").remove();
    sel.selectAll(".tick line").attr("stroke", "#000").attr("stroke-width", 1);
    sel.selectAll("text").attr("font-family", FONT).attr("font-size", 9).attr("fill", "#000");
  };

  g.append("g").attr("transform", `translate(0,${B})`)
    .call(d3.axisBottom(x).tickValues(xTickValues).tickSizeInner(-3).tickSizeOuter(0).tickPadding(5).tickFormat(d3.format("d")))
    .call(styleAxis);
  g.append("g").attr("transform", `translate(0,${T})`)
    .call(d3.axisTop(x).tickValues(xTickValues).tickSizeInner(-3).tickSizeOuter(0).tickFormat(""))
    .call(styleAxis);
  g.append("g").attr("transform", `translate(${L},0)`)
    .call(d3.axisLeft(y).tickValues(p.ticks).tickSizeInner(-3).tickSizeOuter(0).tickPadding(4).tickFormat(fmt))
    .call(styleAxis);
  g.append("g").attr("transform", `translate(${R},0)`)
    .call(d3.axisRight(y).tickValues(p.ticks).tickSizeInner(-3).tickSizeOuter(0).tickFormat(""))
    .call(styleAxis);

  g.append("rect").attr("x", L).attr("y", T).attr("width", R - L).attr("height", B - T)
    .attr("fill", "none").attr("stroke", "#000").attr("stroke-width", 1);

  g.append("text")
    .attr("x", (L + R) / 2).attr("y", B + 24)
    .attr("text-anchor", "middle")
    .attr("font-family", FONT).attr("font-size", 9).attr("fill", "#000")
    .text("Number of Featuers");

  g.append("text")
    .attr("transform", `translate(${p.labelX},${(T + B) / 2}) rotate(-90)`)
    .attr("text-anchor", "middle").attr("dy", "0.35em")
    .attr("font-family", FONT).attr("font-size", 9).attr("fill", "#000")
    .text("Accuracy");

  g.append("text")
    .attr("x", 422).attr("y", p.titleY)
    .attr("text-anchor", "middle")
    .attr("font-family", "'Liberation Serif', 'Times New Roman', serif")
    .attr("font-weight", "bold").attr("font-size", 32).attr("fill", "#000")
    .text(panelNames[i]);
});
</script>
</body></html>
